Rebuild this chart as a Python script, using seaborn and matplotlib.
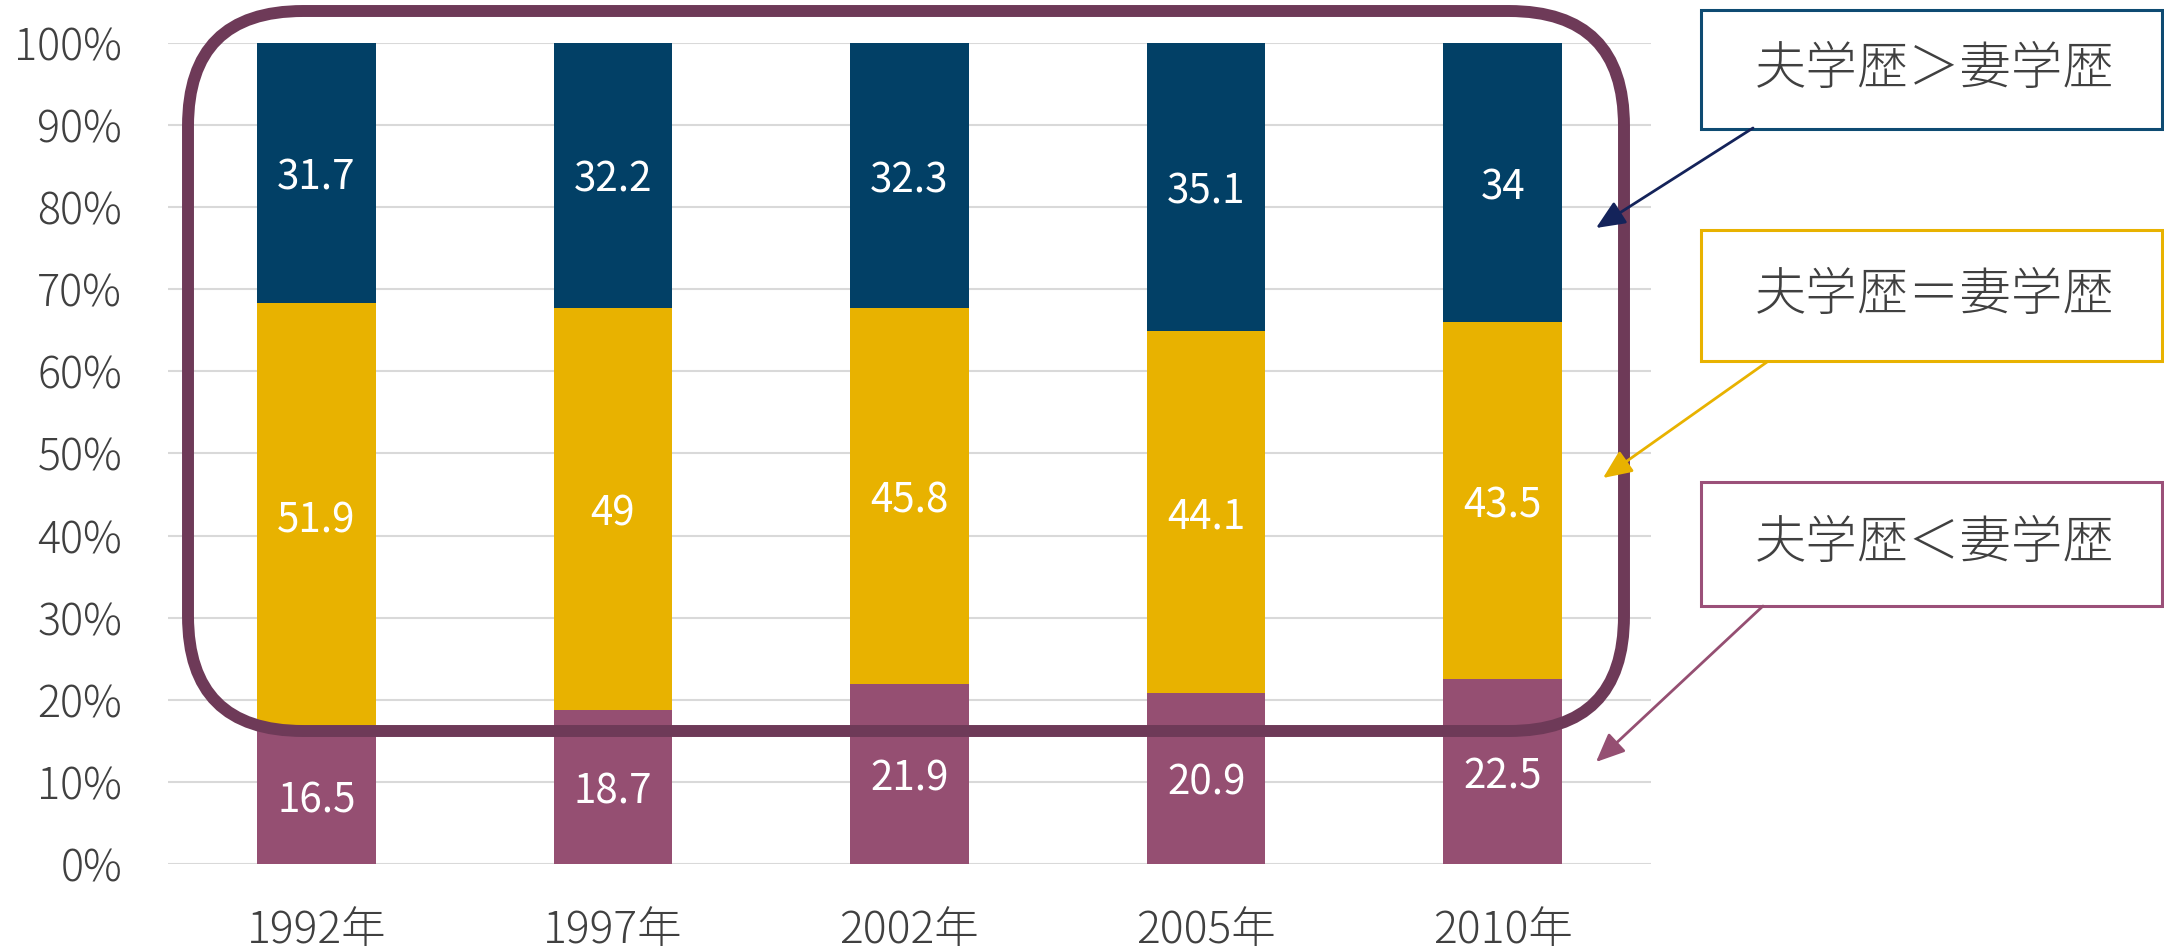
import numpy as np
import pandas as pd
import matplotlib
matplotlib.use("Agg")
import matplotlib.pyplot as plt
import matplotlib.transforms as mtransforms
import seaborn as sns
from matplotlib.patches import FancyBboxPatch, Rectangle, FancyArrowPatch

# ---------------- data ----------------
years = ["1992年", "1997年", "2002年", "2005年", "2010年"]
husband_lower = [16.5, 18.7, 21.9, 20.9, 22.5]    # 夫学歴＜妻学歴
husband_equal = [51.9, 49.0, 45.8, 44.1, 43.5]    # 夫学歴＝妻学歴
husband_higher = [31.7, 32.2, 32.3, 35.1, 34.0]   # 夫学歴＞妻学歴
series_names = ["夫学歴＜妻学歴", "夫学歴＝妻学歴", "夫学歴＞妻学歴"]
y_ticks = [0, 10, 20, 30, 40, 50, 60, 70, 80, 90, 100]
y_tick_labels = [f"{t}%" for t in y_ticks]

# ---------------- style ----------------
sns.set_style("white")
plt.rcParams["font.family"] = ["Noto Sans CJK JP", "DejaVu Sans"]
plt.rcParams["font.weight"] = "light"

W, H, DPI = 2164, 951, 100
fig = plt.figure(figsize=(W / DPI, H / DPI), dpi=DPI)
ax = fig.add_axes([168 / W, (H - 864) / H, (1651 - 168) / W, (864 - 43) / H])

colors = ["#954F72", "#E8B200", "#024066"]
text_col = "#404040"

label_shift = mtransforms.ScaledTranslation(0, -5 / DPI, fig.dpi_scale_trans)

series = [husband_lower, husband_equal, husband_higher]
totals = np.sum(np.array(series), axis=0)
bottom = np.zeros(len(years))
for vals, col in zip(series, colors):
    pct = np.array(vals) / totals * 100
    df = pd.DataFrame({"year": years, "pct": pct})
    sns.barplot(data=df, x="year", y="pct", color=col, saturation=1,
                width=0.40, bottom=bottom, errorbar=None, ax=ax,
                linewidth=0, zorder=2)
    for i, (v, p, b) in enumerate(zip(vals, pct, bottom)):
        ax.text(i, b + p / 2, f"{v:g}", ha="center", va="center",
                color="white", fontsize=29, fontweight="normal", zorder=5,
                transform=ax.transData + label_shift)
    bottom = bottom + pct

ax.set_ylim(0, 100)
ax.set_xlim(-0.5, len(years) - 0.5)
ax.set_yticks(y_ticks)
ax.set_yticklabels(y_tick_labels)
ax.set_xlabel("")
ax.set_ylabel("")
ax.yaxis.grid(True, color="#D9D9D9", linewidth=1.5)
ax.xaxis.grid(False)
ax.set_axisbelow(True)
for s in ax.spines.values():
    s.set_visible(False)
ax.tick_params(axis="y", length=0, pad=33, labelsize=31, labelcolor=text_col)
ax.tick_params(axis="x", length=0, pad=32, labelsize=32, labelcolor=text_col)


def px(x, y):
    return (x / DPI, (H - y) / DPI)


# rounded highlight frame
frame = FancyBboxPatch(px(188, 731), (1624 - 188) / DPI, (731 - 11) / DPI,
                       boxstyle="round,pad=0,rounding_size=1.15",
                       transform=fig.dpi_scale_trans, fill=False,
                       edgecolor="#6E3A58", linewidth=8.6, zorder=10)
fig.add_artist(frame)

# callout boxes
boxes = [
    (series_names[2], "#0E4B72", "#14235A", (10, 129), (1753, 128), (1596, 228)),
    (series_names[1], "#E8B200", "#E8B200", (230, 361), (1767, 362), (1603, 478)),
    (series_names[0], "#9B5079", "#954F72", (482, 606), (1763, 606), (1596, 762)),
]
for name, ecol, acol, (top, bot), start, tip in boxes:
    rect = Rectangle(px(1701, bot), (2162 - 1701) / DPI, (bot - top) / DPI,
                     transform=fig.dpi_scale_trans, fill=True, facecolor="white",
                     edgecolor=ecol, linewidth=2.2, zorder=10)
    fig.add_artist(rect)
    cx, cy = px(1935, (top + bot) / 2)
    fig.text(cx / (W / DPI), cy / (H / DPI), name, ha="center", va="center",
             fontsize=37, color=text_col, zorder=11)
    arr = FancyArrowPatch(px(*start), px(*tip), transform=fig.dpi_scale_trans,
                          arrowstyle="-|>,head_length=0.8,head_width=0.35",
                          mutation_scale=22, color=acol, linewidth=2,
                          shrinkA=0, shrinkB=0, zorder=11)
    fig.add_artist(arr)

fig.savefig("out.png", dpi=DPI)
